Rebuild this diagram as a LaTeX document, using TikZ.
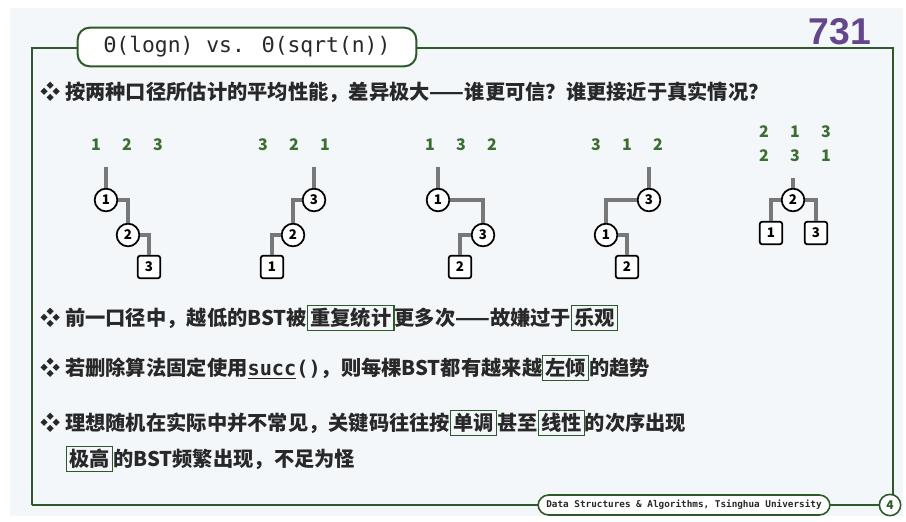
\documentclass[tikz,border=0pt]{standalone}
\usepackage{fontspec}
\setmainfont{Noto Sans CJK SC}
\newfontfamily\cjk{Noto Sans CJK SC}
\newfontfamily\mono{DejaVu Sans Mono}
\newfontfamily\arial{Liberation Sans}
\definecolor{fg}{RGB}{45,90,40}
\definecolor{txt}{RGB}{40,40,40}
\definecolor{num}{RGB}{60,110,50}
\definecolor{pur}{RGB}{100,70,140}
\definecolor{bg}{RGB}{244,247,250}
\definecolor{ln}{RGB}{120,120,120}
\tikzset{
 cnode/.style={circle,draw=black,line width=1.3pt,fill=white,inner sep=0pt,minimum size=17pt,font=\bfseries\normalsize},
 snode/.style={rectangle,rounded corners=2pt,draw=black,line width=1.3pt,fill=white,inner sep=0pt,minimum size=17pt,font=\bfseries\normalsize},
 conn/.style={draw=ln,line width=2.4pt},
 numt/.style={text=num,font=\bfseries\fontsize{12}{14}\selectfont},
 line/.style={anchor=west,text=txt,font=\cjk\bfseries\fontsize{15.2}{17}\selectfont,inner sep=0pt},
 hb/.style={draw=fg,line width=0.9pt,inner sep=2pt}
}
\begin{document}
\begin{tikzpicture}[x=0.75pt,y=-0.75pt]
\useasboundingbox (0,0) rectangle (906,521);
\fill[bg] (10,8) rectangle (903,516);
\draw[fg,line width=1.5pt] (32,505) -- (32,48) -- (893,48) -- (893,505) -- (32,505);
\node[draw=fg,line width=1.5pt,fill=white,rounded corners=9pt,minimum width=254pt,minimum height=29pt,font=\mono\fontsize{16}{18}\selectfont,text=txt] (title) at (247,47) {Θ(logn) vs. Θ(sqrt(n))};
\node[text=pur,font=\arial\bfseries\fontsize{28}{30}\selectfont] (pg) at (840,32) {731};
\node[line] (l1) at (40,92) {❖ 按两种口径所估计的平均性能，差异极大——谁更可信？谁更接近于真实情况？};
% tree 1
\node[numt] (t1n) at (127,145) {1\hspace{16pt}2\hspace{16pt}3};
\coordinate (t1r) at (106,167);
\node[cnode] (t1a) at (106,200) {1};
\node[cnode] (t1b) at (128,235) {2};
\node[snode] (t1c) at (149,267) {3};
\draw[conn] (t1r) -- (t1a);
\draw[conn] (t1a.east) -| (t1b);
\draw[conn] (t1b.east) -| (t1c);
% tree 2
\node[numt] (t2n) at (294,145) {3\hspace{16pt}2\hspace{16pt}1};
\coordinate (t2r) at (314,167);
\node[cnode] (t2a) at (314,200) {3};
\node[cnode] (t2b) at (293,235) {2};
\node[snode] (t2c) at (272,267) {1};
\draw[conn] (t2r) -- (t2a);
\draw[conn] (t2a.west) -| (t2b);
\draw[conn] (t2b.west) -| (t2c);
% tree 3
\node[numt] (t3n) at (461,145) {1\hspace{16pt}3\hspace{16pt}2};
\coordinate (t3r) at (438,167);
\node[cnode] (t3a) at (438,200) {1};
\node[cnode] (t3b) at (483,235) {3};
\node[snode] (t3c) at (460,267) {2};
\draw[conn] (t3r) -- (t3a);
\draw[conn] (t3a.east) -| (t3b);
\draw[conn] (t3b.west) -| (t3c);
% tree 4
\node[numt] (t4n) at (627,145) {3\hspace{16pt}1\hspace{16pt}2};
\coordinate (t4r) at (649,167);
\node[cnode] (t4a) at (649,200) {3};
\node[cnode] (t4b) at (606,235) {1};
\node[snode] (t4c) at (627,267) {2};
\draw[conn] (t4r) -- (t4a);
\draw[conn] (t4a.west) -| (t4b);
\draw[conn] (t4b.east) -| (t4c);
% tree 5
\node[numt] (t5n) at (795,132) {2\hspace{16pt}1\hspace{16pt}3};
\node[numt] (t5m) at (795,156) {2\hspace{16pt}3\hspace{16pt}1};
\coordinate (t5r) at (793,178);
\node[cnode] (t5a) at (793,200) {2};
\node[snode] (t5b) at (771,233) {1};
\node[snode] (t5c) at (816,233) {3};
\draw[conn] (t5r) -- (t5a);
\draw[conn] (t5a.west) -| (t5b);
\draw[conn] (t5a.east) -| (t5c);
% text lines
\node[line] (l2) at (40,318) {❖ 前一口径中，越低的BST被\tikz[baseline]\node[hb,anchor=base]{重复统计};更多次——故嫌过于\tikz[baseline]\node[hb,anchor=base]{乐观};};
\node[line] (l3) at (40,368) {❖ 若删除算法固定使用{\mono\underline{succ}()}，则每棵BST都有越来越\tikz[baseline]\node[hb,anchor=base]{左倾};的趋势};
\node[line] (l4) at (40,423) {❖ 理想随机在实际中并不常见，关键码往往按\tikz[baseline]\node[hb,anchor=base]{单调};甚至\tikz[baseline]\node[hb,anchor=base]{线性};的次序出现};
\node[line] (l5) at (66,459) {\tikz[baseline]\node[hb,anchor=base]{极高};的BST频繁出现，不足为怪};
% footer
\node[draw=fg,line width=1.2pt,fill=white,rounded corners=8pt,minimum width=219pt,minimum height=15pt,font=\mono\bfseries\fontsize{7}{8}\selectfont,text=txt] (foot) at (684,505) {Data Structures \& Algorithms, Tsinghua University};
\node[circle,draw=fg,line width=1.2pt,fill=white,inner sep=0pt,minimum size=16pt,font=\itshape\bfseries\small,text=fg] (pn) at (890,505) {4};
\draw[fg,line width=0.8pt,dashed] (foot) -- (pn);
\end{tikzpicture}
\end{document}
